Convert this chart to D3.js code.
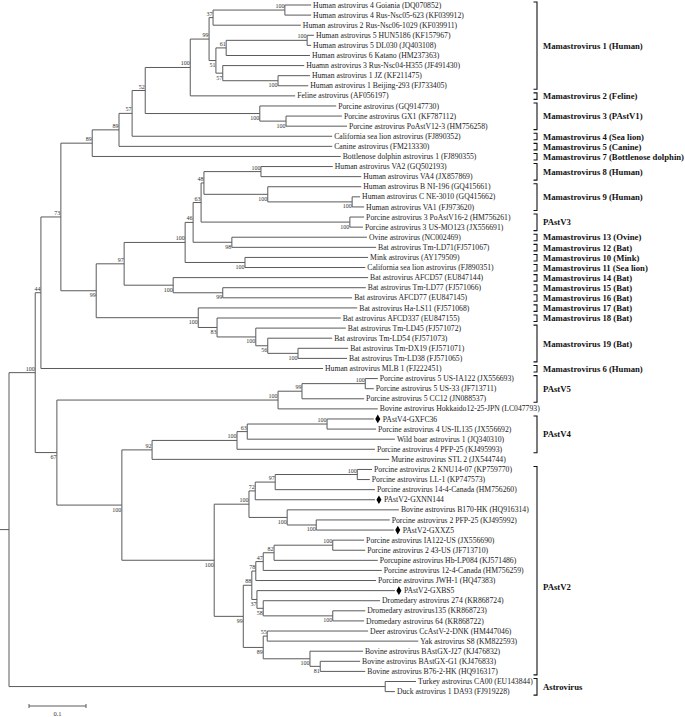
<!DOCTYPE html>
<html>
<head>
<meta charset="utf-8">
<script src="https://cdn.jsdelivr.net/npm/d3@7"></script>
<style>
  html, body { margin: 0; padding: 0; background: #fff; }
  svg { display: block; }
</style>
</head>
<body>
<svg id="chart" width="685" height="717"></svg>
<script>
// ---------------- DATA ----------------
const tipNames = [
  "Human astrovirus 4 Goiania (DQ070852)",
  "Human astrovirus 4 Rus-Nsc05-623 (KF039912)",
  "Human astrovirus 2 Rus-Nsc06-1029 (KF039911)",
  "Human astrovirus 5 HUN5186 (KF157967)",
  "Human astrovirus 5 DL030 (JQ403108)",
  "Human astrovirus 6 Katano (HM237363)",
  "Huamn astrovirus 3 Rus-Nsc04-H355 (JF491430)",
  "Human astrovirus 1 JZ (KF211475)",
  "Human astrovirus 1 Beijing-293 (FJ733405)",
  "Feline astrovirus (AF056197)",
  "Porcine astrovirus (GQ9147730)",
  "Porcine astrovirus GX1 (KF787112)",
  "Porcine astrovirus PoAstV12-3 (HM756258)",
  "California sea lion astrovirus (FJ890352)",
  "Canine astrovirus (FM213330)",
  "Bottlenose dolphin astrovirus 1 (FJ890355)",
  "Human astrovirus VA2 (GQ502193)",
  "Human astrovirus VA4 (JX857869)",
  "Human astrovirus B NI-196 (GQ415661)",
  "Human astrovirus C NE-3010 (GQ415662)",
  "Human astrovirus VA1 (FJ973620)",
  "Porcine astrovirus 3 PoAstV16-2 (HM756261)",
  "Porcine astrovirus 3 US-MO123 (JX556691)",
  "Ovine astrovirus (NC002469)",
  "Bat astrovirus Tm-LD71(FJ571067)",
  "Mink astrovirus (AY179509)",
  "California sea lion astrovirus (FJ890351)",
  "Bat astrovirus AFCD57 (EU847144)",
  "Bat astrovirus Tm-LD77 (FJ571066)",
  "Bat astrovirus AFCD77 (EU847145)",
  "Bat astrovirus Ha-LS11 (FJ571068)",
  "Bat astrovirus AFCD337 (EU847155)",
  "Bat astrovirus Tm-LD45 (FJ571072)",
  "Bat astrovirus Tm-LD54 (FJ571073)",
  "Bat astrovirus Tm-DX19 (FJ571071)",
  "Bat astrovirus Tm-LD38 (FJ571065)",
  "Human astrovirus MLB 1 (FJ222451)",
  "Porcine astrovirus 5 US-IA122 (JX556693)",
  "Porcine astrovirus 5 US-33 (JF713711)",
  "Porcine astrovirus 5 CC12 (JN088537)",
  "Bovine astrovirus Hokkaido12-25-JPN (LC047793)",
  "PAstV4-GXFC36",
  "Porcine astrovirus 4 US-IL135 (JX556692)",
  "Wild boar astrovirus 1 (JQ340310)",
  "Porcine astrovirus 4 PFP-25 (KJ495993)",
  "Murine astrovirus STL 2 (JX544744)",
  "Porcine astrovirus 2 KNU14-07 (KP759770)",
  "Porcine astrovirus LL-1 (KP747573)",
  "Porcine astrovirus 14-4-Canada (HM756260)",
  "PAstV2-GXNN144",
  "Bovine astrovirus B170-HK (HQ916314)",
  "Porcine astrovirus 2 PFP-25 (KJ495992)",
  "PAstV2-GXXZ5",
  "Porcine astrovirus IA122-US (JX556690)",
  "Porcine astrovirus 2 43-US (JF713710)",
  "Porcupine astrovirus Hb-LP084 (KJ571486)",
  "Porcine astrovirus 12-4-Canada (HM756259)",
  "Porcine astrovirus JWH-1 (HQ47383)",
  "PAstV2-GXBS5",
  "Dromedary astrovirus 274 (KR868724)",
  "Dromedary astrovirus135 (KR868723)",
  "Dromedary astrovirus 64 (KR868722)",
  "Deer astrovirus CcAstV-2-DNK (HM447046)",
  "Yak astrovirus S8 (KM822593)",
  "Bovine astrovirus BAstGX-J27 (KJ476832)",
  "Bovine astrovirus BAstGX-G1 (KJ476833)",
  "Bovine astrovirus B76-2-HK (HQ916317)",
  "Turkey astrovirus CA00 (EU143844)",
  "Duck astrovirus 1 DA93 (FJ919228)"
];

// distance of each tip from the root (substitutions per site)
const tipDist = [
  0.530, 0.530, 0.512, 0.535, 0.530, 0.528, 0.518, 0.528, 0.525, 0.502,
  0.574, 0.584, 0.593, 0.567, 0.567, 0.582, 0.568, 0.618, 0.618, 0.616,
  0.623, 0.623, 0.621, 0.628, 0.644, 0.630, 0.625, 0.630, 0.626, 0.602,
  0.611, 0.582, 0.591, 0.567, 0.595, 0.593, 0.551, 0.647, 0.640, 0.623,
  0.647, 0.640, 0.644, 0.677, 0.642, 0.667, 0.637, 0.633, 0.642, 0.642,
  0.684, 0.668, 0.675, 0.623, 0.625, 0.647, 0.654, 0.644, 0.677, 0.651,
  0.625, 0.623, 0.630, 0.718, 0.621, 0.616, 0.625, 0.714, 0.677
];

// tips marked with a black diamond (study sequences)
const markedTips = [41, 49, 52, 58];

// internal nodes: [id, first child, second child, distance from root, bootstrap]
// numeric children are tip indices
const cladeRows = [
  ["root", "nA", "nAv", 0.000, null],
  ["nAv", 67, 68, 0.660, null],
  ["nA", "n44", "n67", 0.046, 100],
  ["n44", "n73", 36, 0.056, 44],
  ["n73", "n89a", "n99b", 0.091, 73],
  ["n89a", "n89b", 15, 0.146, 89],
  ["n89b", "n57", 14, 0.193, 89],
  ["n57", "n52", 13, 0.216, 57],
  ["n52", "nHF", "nP1", 0.239, 52],
  ["nHF", "n99h", 9, 0.318, 100],
  ["n99h", "n37", "n51", 0.351, 99],
  ["n37", "n12", 2, 0.358, 37],
  ["n12", 0, 1, 0.484, 100],
  ["n51", "n61", "n57h", 0.363, 51],
  ["n61", "n45", 5, 0.381, 61],
  ["n45", 3, 4, 0.523, 100],
  ["n57h", 6, "n89", 0.375, 57],
  ["n89", 7, 8, 0.472, 100],
  ["nP1", 10, "n1213", 0.440, 100],
  ["n1213", 11, 12, 0.486, 100],
  ["n99b", "n97", "n198", 0.153, 99],
  ["n97", "n185", "n173", 0.202, 97],
  ["n185", "n46", "nMink", 0.309, 100],
  ["n46", "n63", "n98", 0.323, 46],
  ["n63", "n48", "n2223", 0.337, 63],
  ["n48", "n1718", "n268", 0.342, 48],
  ["n1718", 16, 17, 0.442, 100],
  ["n268", 18, "n2021", 0.454, 100],
  ["n2021", 19, 20, 0.602, 100],
  ["n2223", 21, 22, 0.598, 100],
  ["n98", 23, 24, 0.391, 98],
  ["nMink", 25, 26, 0.414, 100],
  ["n173", 27, "n223", 0.288, 100],
  ["n223", 28, 29, 0.375, 99],
  ["n198", 30, "n83", 0.332, 100],
  ["n83", 31, "n256", 0.365, 83],
  ["n256", 32, "n56", 0.433, 100],
  ["n56", 33, "n3536", 0.454, 56],
  ["n3536", 34, 35, 0.507, 100],
  ["n67", "n278", "n122", 0.084, 67],
  ["n278", "n302", 40, 0.472, 100],
  ["n302", "n3839", 39, 0.514, 99],
  ["n3839", 37, 38, 0.625, 100],
  ["n122", "n92", "n214", 0.198, 100],
  ["n92", "n237", 45, 0.251, 92],
  ["n237", "n247", 44, 0.400, 100],
  ["n247", "n4243", 43, 0.418, 63],
  ["n4243", 41, 42, 0.558, 100],
  ["n214", "n249", "n243", 0.360, 100],
  ["n249", "n72", "n287", 0.421, 100],
  ["n72", "n275", 49, 0.432, 72],
  ["n275", "n4748", 48, 0.467, 97],
  ["n4748", 46, 47, 0.611, 100],
  ["n287", 50, "n5253", 0.488, 100],
  ["n5253", 51, 52, 0.539, 100],
  ["n243", "n88", "n89c", 0.411, 99],
  ["n88", "n78", "n37b", 0.426, 88],
  ["n78", "n47", 57, 0.433, 78],
  ["n47", "n82", 56, 0.446, 47],
  ["n82", "n5455", 55, 0.465, 82],
  ["n5455", 53, 54, 0.568, 100],
  ["n37b", 58, "n58", 0.435, 37],
  ["n58", 59, "n6162", 0.446, 58],
  ["n6162", 60, 61, 0.568, 100],
  ["n89c", "n55", "n310", 0.446, 89],
  ["n55", 62, 63, 0.453, 55],
  ["n310", 64, "n81", 0.528, 100],
  ["n81", 65, 66, 0.546, 81]
];

// clade brackets on the right
const groupLabels = [
  "Mamastrovirus 1 (Human)", "Mamastrovirus 2 (Feline)", "Mamastrovirus 3 (PAstV1)",
  "Mamastrovirus 4 (Sea lion)", "Mamastrovirus 5 (Canine)", "Mamastrovirus 7 (Bottlenose dolphin)",
  "Mamastrovirus 8 (Human)", "Mamastrovirus 9 (Human)", "PAstV3",
  "Mamastrovirus 13 (Ovine)", "Mamastrovirus 12 (Bat)", "Mamastrovirus 10 (Mink)",
  "Mamastrovirus 11 (Sea lion)", "Mamastrovirus 14 (Bat)", "Mamastrovirus 15 (Bat)",
  "Mamastrovirus 16 (Bat)", "Mamastrovirus 17 (Bat)", "Mamastrovirus 18 (Bat)",
  "Mamastrovirus 19 (Bat)", "Mamastrovirus 6 (Human)", "PAstV5", "PAstV4", "PAstV2", "Astrovirus"
];
const groupFrom = [0, 9, 10, 13, 14, 15, 16, 18, 21, 23, 24, 25, 26, 27, 28, 29, 30, 31, 32, 36, 37, 41, 46, 67];
const groupTo   = [8, 9, 12, 13, 14, 15, 17, 20, 22, 23, 24, 25, 26, 27, 28, 29, 30, 31, 35, 36, 39, 44, 66, 68];

const scaleBarValue = 0.1;

// ---------------- DRAW ----------------
const svg = d3.select("#chart");
svg.append("rect").attr("width", 685).attr("height", 717).attr("fill", "#fff");

const x = d3.scaleLinear().domain([0, 1]).range([9, 579]);
const y = d3.scaleLinear().domain([0, tipNames.length - 1]).range([5, 691.6]);

const rowById = new Map(cladeRows.map(r => [r[0], r]));
function build(ref) {
  if (typeof ref === "number") return { tip: ref, name: tipNames[ref], dist: tipDist[ref] };
  const r = rowById.get(ref);
  return { id: ref, dist: r[3], support: r[4], children: [build(r[1]), build(r[2])] };
}
const root = d3.hierarchy(build("root"));
root.eachAfter(n => {
  n.px = x(n.data.dist);
  if (n.children) {
    n.py = (n.children[0].py + n.children[n.children.length - 1].py) / 2;
  } else {
    n.py = y(n.data.tip);
  }
});

const lineColor = "#5a5a5a";
const serif = "'Liberation Serif', 'Times New Roman', serif";
const g = svg.append("g");

// vertical connectors
g.selectAll("line.v")
  .data(root.descendants().filter(n => n.children))
  .join("line")
  .attr("x1", n => n.px).attr("x2", n => n.px)
  .attr("y1", n => n.children[0].py).attr("y2", n => n.children[n.children.length - 1].py)
  .attr("stroke", lineColor).attr("stroke-width", 1);

// horizontal branches
g.selectAll("line.h")
  .data(root.descendants().filter(n => n.parent))
  .join("line")
  .attr("x1", n => n.parent.px).attr("x2", n => n.px)
  .attr("y1", n => n.py).attr("y2", n => n.py)
  .attr("stroke", lineColor).attr("stroke-width", 1);

// root stub
g.append("line")
  .attr("x1", 0).attr("x2", root.px)
  .attr("y1", root.py).attr("y2", root.py)
  .attr("stroke", lineColor).attr("stroke-width", 1);

// bootstrap values
g.selectAll("text.support")
  .data(root.descendants().filter(n => n.parent && n.children && n.data.support != null))
  .join("text")
  .attr("x", n => n.px - 0.5)
  .attr("y", n => (n.parent.children[0] === n) ? n.py - 2 : n.py + 6.5)
  .attr("text-anchor", "end")
  .attr("font-family", serif)
  .attr("font-size", 6)
  .attr("fill", "#333")
  .text(n => n.data.support);

// tips
const leaves = root.leaves();
const marked = new Set(markedTips);
g.selectAll("path.mark")
  .data(leaves.filter(n => marked.has(n.data.tip)))
  .join("path")
  .attr("d", d3.symbol(d3.symbolDiamond, 22))
  .attr("transform", n => `translate(${n.px + 4},${n.py})`)
  .attr("fill", "#000");

g.selectAll("text.tip")
  .data(leaves)
  .join("text")
  .attr("x", n => n.px + (marked.has(n.data.tip) ? 9 : 2))
  .attr("y", n => n.py + 2.6)
  .attr("font-family", serif)
  .attr("font-size", 7.7)
  .attr("fill", "#222")
  .text(n => n.data.name);

// group brackets
const bx = 537;
const groups = groupLabels.map((label, i) => ({
  label,
  top: y(groupFrom[i]) - 3,
  bottom: y(groupTo[i]) + 3.5
}));
const gb = svg.append("g");
gb.selectAll("path.br")
  .data(groups)
  .join("path")
  .attr("d", d => `M${bx - 3.5},${d.top}H${bx}V${d.bottom}H${bx - 3.5}`)
  .attr("fill", "none").attr("stroke", "#111").attr("stroke-width", 1.1);
gb.selectAll("text.gl")
  .data(groups)
  .join("text")
  .attr("x", bx + 6)
  .attr("y", d => (d.top + d.bottom) / 2 + 3 + (d.label === "PAstV2" ? 16 : 0))
  .attr("font-family", serif)
  .attr("font-weight", "bold")
  .attr("font-size", 8.7)
  .attr("fill", "#111")
  .text(d => d.label);

// scale bar
const sb = svg.append("g");
const sx0 = 29, sy = 706;
const sLen = x(scaleBarValue) - x(0);
sb.append("line").attr("x1", sx0).attr("x2", sx0 + sLen).attr("y1", sy).attr("y2", sy)
  .attr("stroke", lineColor);
sb.append("line").attr("x1", sx0).attr("x2", sx0).attr("y1", sy - 2).attr("y2", sy + 2).attr("stroke", lineColor);
sb.append("line").attr("x1", sx0 + sLen).attr("x2", sx0 + sLen).attr("y1", sy - 2).attr("y2", sy + 2).attr("stroke", lineColor);
sb.append("text").attr("x", sx0 + sLen / 2).attr("y", 716)
  .attr("text-anchor", "middle")
  .attr("font-family", serif)
  .attr("font-size", 6.5).attr("fill", "#333")
  .text(scaleBarValue);
</script>
</body>
</html>
